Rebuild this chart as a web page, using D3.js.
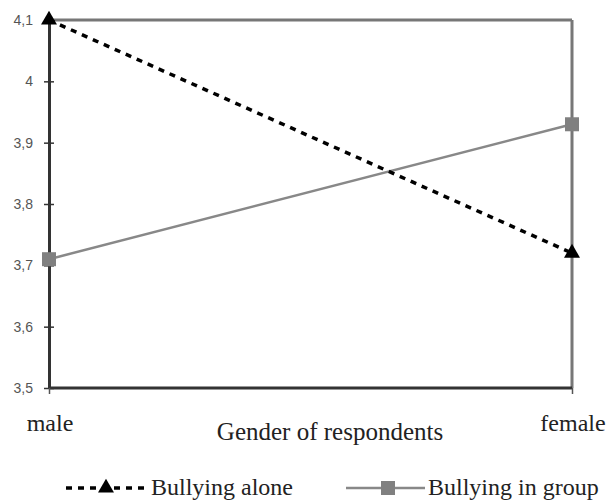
<!DOCTYPE html>
<html><head><meta charset="utf-8">
<script src="https://cdn.jsdelivr.net/npm/d3@7"></script>
<style>body{margin:0;background:#fff}</style>
</head><body>
<svg id="c" width="607" height="502"></svg>
<script>
const categories = ["male", "female"];
const aloneValues = [4.1, 3.72];
const groupValues = [3.71, 3.93];
const yTicks = [3.5, 3.6, 3.7, 3.8, 3.9, 4.0, 4.1];
const seriesNames = ["Bullying alone", "Bullying in group"];

const svg = d3.select("#c");
const L = 49, R = 572, T = 20, B = 388;
const x = d3.scalePoint().domain(categories).range([L, R]);
const y = d3.scaleLinear().domain([3.5, 4.1]).range([B, T]);
const font = "'Liberation Serif', 'DejaVu Serif', serif";
const sans = "'Liberation Sans', sans-serif";
const fmt = d => d3.format("")(d).replace(".", ",");

// frame: top & right gray, left & bottom dark
svg.append("line").attr("x1", L).attr("x2", R).attr("y1", T).attr("y2", T).attr("stroke", "#777").attr("stroke-width", 3);
svg.append("line").attr("x1", R).attr("x2", R).attr("y1", T).attr("y2", B).attr("stroke", "#777").attr("stroke-width", 3);

// y axis
const yAxis = d3.axisLeft(y).tickValues(yTicks).tickSize(0).tickFormat(fmt);
const gy = svg.append("g").attr("transform", `translate(${L},0)`).call(yAxis);
gy.select(".domain").attr("stroke", "#333").attr("stroke-width", 3);
gy.selectAll(".tick text").attr("x", -16).attr("font-family", sans).attr("font-size", 14).attr("fill", "#555");
gy.selectAll(".tick").append("line").attr("x1", -5).attr("x2", 5).attr("stroke", "#333").attr("stroke-width", 1.5);

// x axis
const xAxis = d3.axisBottom(x).tickSize(6).tickFormat("");
const gx = svg.append("g").attr("transform", `translate(0,${B})`).call(xAxis);
gx.select(".domain").attr("stroke", "#333").attr("stroke-width", 3).attr("d", `M${L},0H${R}`);
gx.selectAll(".tick line").attr("stroke", "#555").attr("stroke-width", 1.5);
svg.selectAll(".catlab").data(categories).enter().append("text")
  .attr("x", d => x(d) + 1).attr("y", 431)
  .attr("text-anchor", "middle").attr("font-family", font).attr("font-size", 24).attr("fill", "#222")
  .text(d => d);
svg.append("text").attr("x", 330).attr("y", 440).attr("text-anchor", "middle")
  .attr("font-family", font).attr("font-size", 25).attr("fill", "#222").text("Gender of respondents");

const line = d3.line().x((d, i) => x(categories[i])).y(d => y(d));
// group series
svg.append("path").datum(groupValues).attr("d", line).attr("fill", "none").attr("stroke", "#888").attr("stroke-width", 2.5);
svg.selectAll(".sq").data(groupValues).enter().append("rect")
  .attr("x", (d, i) => x(categories[i]) - 7).attr("y", d => y(d) - 7).attr("width", 14).attr("height", 14).attr("fill", "#808080");
// alone series
svg.append("path").datum(aloneValues).attr("d", line).attr("fill", "none").attr("stroke", "#000").attr("stroke-width", 3.5).attr("stroke-dasharray", "6,6");
const tri = d3.symbol().type(d3.symbolTriangle).size(110);
svg.selectAll(".tri").data(aloneValues).enter().append("path")
  .attr("d", tri).attr("transform", (d, i) => `translate(${x(categories[i])},${y(d)})`).attr("fill", "#000");

// legend
const ly = 488;
svg.append("line").attr("x1", 66).attr("x2", 148).attr("y1", ly).attr("y2", ly).attr("stroke", "#000").attr("stroke-width", 3.5).attr("stroke-dasharray", "6,6");
svg.append("path").attr("d", tri).attr("transform", `translate(106,${ly})`).attr("fill", "#000");
svg.append("text").attr("x", 151).attr("y", ly + 7).attr("font-family", font).attr("font-size", 24).attr("fill", "#222").text(seriesNames[0]);
svg.append("line").attr("x1", 346).attr("x2", 425).attr("y1", ly).attr("y2", ly).attr("stroke", "#888").attr("stroke-width", 2.5);
svg.append("rect").attr("x", 381).attr("y", ly - 7).attr("width", 14).attr("height", 14).attr("fill", "#808080");
svg.append("text").attr("x", 428).attr("y", ly + 7).attr("font-family", font).attr("font-size", 24).attr("fill", "#222").text(seriesNames[1]);
</script>
</body></html>
